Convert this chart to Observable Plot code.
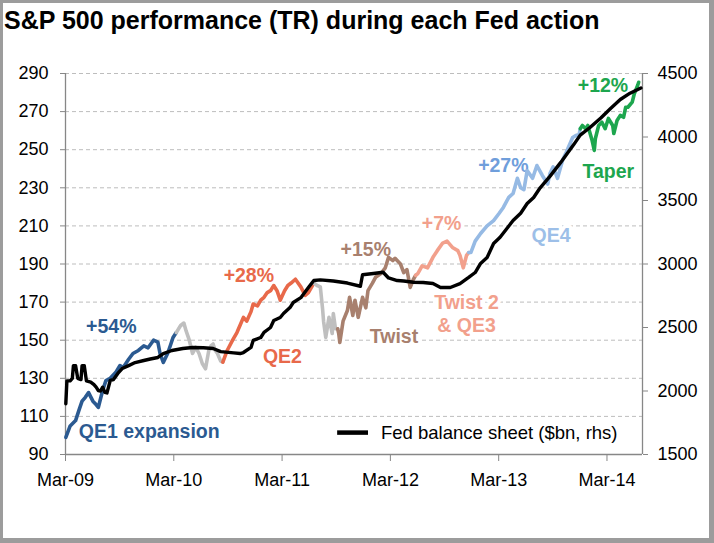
<!DOCTYPE html>
<html>
<head>
<meta charset="utf-8">
<script src="https://cdn.jsdelivr.net/npm/d3@7"></script>
<script src="https://cdn.jsdelivr.net/npm/@observablehq/plot@0.6"></script>
<style>
  html, body { margin: 0; padding: 0; background: #fff; }
  #frame {
    box-sizing: border-box; width: 714px; height: 543px;
    border-top: 3px solid #9c9c9c; border-left: 3px solid #9c9c9c;
    border-right: 5px solid #9c9c9c; border-bottom: 5px solid #9c9c9c;
    background: #fff; overflow: hidden;
  }
  #title {
    height: 40px; box-sizing: border-box; padding: 5px 0 0 1px;
    font-family: "Liberation Sans", Arial, sans-serif; font-weight: bold;
    font-size: 25px; line-height: 25px; color: #000; white-space: nowrap;
  }
  svg { display: block; }
</style>
</head>
<body>
<div id="frame">
  <div id="title">S&amp;P 500 performance (TR) during each Fed action</div>
  <div id="chart"></div>
</div>
<script>
// ---- axes ----
const xTicks = [2009.167, 2010.167, 2011.167, 2012.167, 2013.167, 2014.167];
const xTickLabels = ["Mar-09", "Mar-10", "Mar-11", "Mar-12", "Mar-13", "Mar-14"];
const leftTicks = [90, 110, 130, 150, 170, 190, 210, 230, 250, 270, 290];
const rightTicks = [1500, 2000, 2500, 3000, 3500, 4000, 4500];

// ---- S&P 500 TR index, per Fed phase (time in decimal years) ----
const qe1T = [2009.17, 2009.21, 2009.26, 2009.29, 2009.32, 2009.35, 2009.38, 2009.42, 2009.44, 2009.47, 2009.51, 2009.54, 2009.58, 2009.63, 2009.67, 2009.70, 2009.75, 2009.79, 2009.84, 2009.89, 2009.93, 2009.98, 2010.02, 2010.04, 2010.07, 2010.11, 2010.14, 2010.16, 2010.19];
const qe1V = [99, 105, 107.8, 113, 118, 120, 122.5, 118, 116.8, 114.7, 123.6, 128.8, 130, 133, 136.7, 135.7, 140, 143, 144.6, 147, 146, 150, 149, 143, 138.3, 143, 148, 151.4, 154];

const gap1T = [2010.19, 2010.23, 2010.26, 2010.28, 2010.31, 2010.34, 2010.37, 2010.40, 2010.43, 2010.46, 2010.49, 2010.51, 2010.53, 2010.55, 2010.57, 2010.60, 2010.62];
const gap1V = [154, 157.7, 159, 155, 150, 143, 146.3, 143, 137.8, 135, 144.6, 147, 148, 144.6, 143, 139, 138.5];

const qe2T = [2010.62, 2010.66, 2010.71, 2010.75, 2010.78, 2010.81, 2010.84, 2010.88, 2010.90, 2010.94, 2010.97, 2011.00, 2011.03, 2011.06, 2011.09, 2011.12, 2011.15, 2011.19, 2011.22, 2011.25, 2011.29, 2011.34, 2011.38, 2011.41, 2011.43, 2011.46];
const qe2V = [138.5, 144.6, 150, 154, 158, 162, 160, 165, 169, 168, 171, 172.5, 175, 176, 178.7, 176, 171, 176, 178.7, 180, 182, 178, 173.5, 175, 177, 180];

const gap2T = [2011.46, 2011.49, 2011.52, 2011.54, 2011.55, 2011.57, 2011.60, 2011.63, 2011.64, 2011.66, 2011.68];
const gap2V = [180, 178.7, 178, 167, 160, 151.5, 162, 153.5, 164, 156, 156];

const twistT = [2011.68, 2011.69, 2011.70, 2011.73, 2011.77, 2011.79, 2011.82, 2011.84, 2011.87, 2011.91, 2011.94, 2011.96, 2012.00, 2012.03, 2012.08, 2012.12, 2012.15, 2012.19, 2012.21, 2012.26, 2012.29, 2012.32, 2012.35, 2012.38, 2012.40];
const twistV = [156, 153.5, 148.8, 160, 165.6, 172.5, 163, 171, 162, 172.5, 167, 176, 179.8, 183, 185, 188, 193.5, 191.8, 193, 190, 185.5, 187, 177.7, 182, 184];

const twist2T = [2012.40, 2012.42, 2012.46, 2012.51, 2012.56, 2012.60, 2012.65, 2012.69, 2012.74, 2012.79, 2012.81, 2012.84, 2012.87, 2012.89];
const twist2V = [184, 185, 189, 188, 193.5, 197, 201, 202, 198.7, 197, 194.5, 188, 194.5, 196];

const qe4T = [2012.89, 2012.91, 2012.95, 2013.00, 2013.06, 2013.12, 2013.17, 2013.21, 2013.26, 2013.30, 2013.34, 2013.37, 2013.40, 2013.43, 2013.48, 2013.52, 2013.57, 2013.62, 2013.64, 2013.67, 2013.71, 2013.74, 2013.76, 2013.79, 2013.85, 2013.88, 2013.91, 2013.92];
const qe4V = [196, 196, 202, 206, 210, 212.8, 216.5, 219.7, 225, 227, 235, 230, 229, 239, 235, 241.7, 236.5, 232, 237.5, 241, 235, 241, 245, 248.5, 256.4, 257.5, 258, 261];

const taperT = [2013.92, 2013.94, 2013.97, 2013.99, 2014.03, 2014.05, 2014.06, 2014.09, 2014.12, 2014.15, 2014.18, 2014.22, 2014.23, 2014.26, 2014.29, 2014.32, 2014.34, 2014.36, 2014.40, 2014.42, 2014.45, 2014.46];
const taperV = [261, 262.7, 261, 262.7, 254.8, 249.6, 255.9, 262.7, 264.4, 261, 266.4, 262.7, 258.5, 265.3, 268, 267, 272.3, 272.3, 275, 279.5, 283.7, 285.4];

// ---- Fed balance sheet ($bn, right axis) ----
const fedT = [2009.17, 2009.18, 2009.21, 2009.23, 2009.24, 2009.26, 2009.28, 2009.31, 2009.32, 2009.34, 2009.36, 2009.40, 2009.43, 2009.45, 2009.47, 2009.49, 2009.51, 2009.53, 2009.55, 2009.58, 2009.61, 2009.65, 2009.69, 2009.75, 2009.81, 2009.89, 2009.95, 2010.02, 2010.07, 2010.15, 2010.25, 2010.34, 2010.44, 2010.53, 2010.60, 2010.72, 2010.78, 2010.81, 2010.88, 2010.90, 2010.97, 2011.00, 2011.06, 2011.09, 2011.15, 2011.18, 2011.24, 2011.27, 2011.34, 2011.41, 2011.46, 2011.52, 2011.64, 2011.77, 2011.89, 2011.91, 2012.01, 2012.10, 2012.15, 2012.23, 2012.29, 2012.38, 2012.47, 2012.56, 2012.63, 2012.72, 2012.81, 2012.89, 2012.95, 2013.00, 2013.06, 2013.12, 2013.18, 2013.25, 2013.30, 2013.37, 2013.43, 2013.49, 2013.55, 2013.64, 2013.74, 2013.80, 2013.86, 2013.92, 2014.01, 2014.11, 2014.20, 2014.29, 2014.38, 2014.48];
const fedB = [1900, 2080, 2080, 2100, 2200, 2200, 2100, 2090, 2200, 2200, 2080, 2070, 2050, 2030, 2004, 2000, 2030, 1990, 1985, 2083, 2090, 2138, 2177, 2200, 2224, 2240, 2252, 2264, 2295, 2319, 2335, 2343, 2340, 2335, 2310, 2300, 2295, 2303, 2343, 2398, 2421, 2461, 2500, 2555, 2579, 2610, 2657, 2697, 2735, 2815, 2870, 2875, 2866, 2850, 2825, 2915, 2925, 2935, 2890, 2870, 2866, 2856, 2854, 2846, 2815, 2815, 2846, 2894, 2933, 3004, 3051, 3161, 3210, 3287, 3342, 3400, 3476, 3524, 3600, 3690, 3800, 3870, 3940, 4015, 4075, 4150, 4225, 4295, 4345, 4386];

// ---- annotations ----
const labelText = ["+54%", "QE1 expansion", "+28%", "QE2", "+15%", "Twist", "+7%", "Twist 2", "& QE3", "+27%", "QE4", "+12%", "Taper"];
const labelT = [2009.59, 2009.94, 2010.86, 2011.17, 2011.94, 2012.20, 2012.64, 2012.87, 2012.87, 2013.21, 2013.65, 2014.13, 2014.18];
const labelV = [157.2, 101.7, 184, 141.4, 197.6, 151.9, 211, 169.5, 157.7, 241.7, 204.7, 283.4, 238.3];
const labelColor = ["#2B5A91", "#2B5A91", "#E8694A", "#E8694A", "#A8806E", "#A8806E", "#F2A08C", "#F2A08C", "#F2A08C", "#6F9EDB", "#9DBFE8", "#1DA64E", "#1DA64E"];

const legendText = ["Fed balance sheet ($bn, rhs)"];
const legendLineT = [2011.68, 2011.965];
const legendTextT = [2012.08];
const legendV = [101.5];

// ---- styling (colours per phase) ----
const phaseColor = {
  qe1: "#2B5A91", gap: "#BFBFBF", qe2: "#E8694A", twist: "#A8806E",
  twist2: "#F2A08C", qe4: "#96BAE4", taper: "#1DA64E"
};

// helpers
const zip = (ts, vs) => ts.map((t, i) => ({t, v: vs[i]}));
const toLeft = b => 90 + (b - 1500) * (200 / 3000);
const fromLeft = v => Math.round(1500 + (v - 90) * 15);

const segments = [
  ["qe1", zip(qe1T, qe1V)], ["gap", zip(gap1T, gap1V)], ["qe2", zip(qe2T, qe2V)],
  ["gap", zip(gap2T, gap2V)], ["twist", zip(twistT, twistV)], ["twist2", zip(twist2T, twist2V)],
  ["qe4", zip(qe4T, qe4V)], ["taper", zip(taperT, taperV)]
];
const fedData = fedT.map((t, i) => ({t, v: toLeft(fedB[i])}));
const labels = labelText.map((s, i) => ({s, t: labelT[i], v: labelV[i], c: labelColor[i]}));

const xMin = 2009.167, xMax = 2014.495;

const plot = Plot.plot({
  width: 706, height: 495,
  marginLeft: 62, marginRight: 67, marginTop: 30, marginBottom: 84,
  x: {domain: [xMin, xMax]},
  y: {domain: [90, 290]},
  style: {fontFamily: "'Liberation Sans', Arial, sans-serif", fontSize: "18px", color: "#000", background: "#fff", overflow: "visible"},
  marks: [
    Plot.ruleY(leftTicks.filter(d => d > 90), {stroke: "#bdbdbd", strokeWidth: 1, strokeDasharray: "4,3"}),
    Plot.ruleX([xMin, xMax], {stroke: "#878787", strokeWidth: 1.3}),
    Plot.ruleY([90], {stroke: "#878787", strokeWidth: 1.3}),
    Plot.axisY({anchor: "left", ticks: leftTicks, tickSize: 5, tickPadding: 12, stroke: "#878787", fill: "#000", label: null, tickFormat: d => String(d), fontSize: 18}),
    Plot.axisY({anchor: "right", ticks: rightTicks.map(toLeft), tickSize: 5, tickPadding: 10, stroke: "#878787", fill: "#000", label: null, tickFormat: d => String(fromLeft(d)), fontSize: 18}),
    Plot.axisX({anchor: "bottom", ticks: xTicks, tickSize: 7, tickPadding: 12, stroke: "#878787", fill: "#000", label: null, tickFormat: d => xTickLabels[Math.round(d - xMin)], fontSize: 18}),
    Plot.text(labels, {x: "t", y: "v", text: "s", fill: "c", stroke: "#fff", strokeWidth: 7, paintOrder: "stroke", fontWeight: "bold", fontSize: 19.5}),
    ...segments.map(([p, d]) => Plot.line(d, {x: "t", y: "v", stroke: phaseColor[p], strokeWidth: 3.6})),
    Plot.line(fedData, {x: "t", y: "v", stroke: "#000", strokeWidth: 3.4}),
    Plot.ruleY(legendV, {x1: legendLineT[0], x2: legendLineT[1], stroke: "#000", strokeWidth: 4.5}),
    Plot.text(legendText, {x: legendTextT[0], y: legendV[0], text: d => d, textAnchor: "start", fill: "#000", fontSize: 18.5})
  ]
});
document.getElementById("chart").appendChild(plot);
</script>
</body>
</html>
